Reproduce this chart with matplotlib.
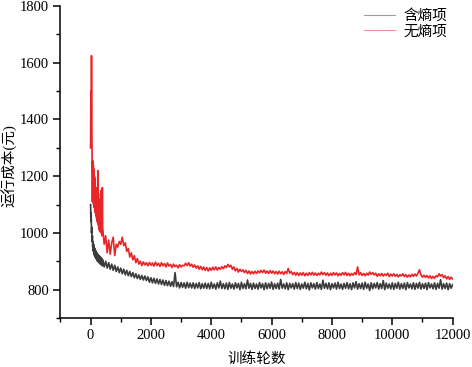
import numpy as np
import matplotlib
matplotlib.use("Agg")
import matplotlib.pyplot as plt
from matplotlib.ticker import MultipleLocator

plt.rcParams['font.family'] = ['Liberation Serif', 'Noto Sans CJK SC']

# iterations: dense in early phase, then every 50
iters = np.concatenate([np.arange(0, 400, 10), np.arange(400, 12001, 50)])

red_early = [1300, 1500, 1390, 1625, 1400, 1250, 1110, 1255, 1120, 1240,
             1100, 1225, 1090, 1200, 1080, 1190, 1070, 1160, 1060, 1150,
             1050, 1140, 1040, 1120, 1220, 1030, 1140, 1020, 1110, 1010,
             1090, 1005, 1070, 1120, 1000, 1150, 1010, 1140, 990, 1160]
red_late = [1020, 960, 990, 930, 975, 925, 965, 985, 920, 960,
            950, 970, 960, 985, 955, 965, 935, 945, 915, 930,
            905, 920, 895, 910, 890, 900, 885, 898, 887, 895,
            884, 896, 886, 894, 883, 897, 885, 893, 882, 895,
            884, 892, 880, 894, 883, 889, 878, 890, 881, 886,
            877, 888, 880, 886, 884, 893, 885, 895, 883, 890,
            879, 887, 876, 884, 872, 882, 870, 880, 868, 878,
            866, 877, 868, 879, 870, 880, 869, 878, 872, 881,
            874, 884, 878, 889, 880, 886, 872, 880, 866, 875,
            862, 872, 864, 870, 860, 868, 857, 866, 855, 864,
            856, 865, 857, 866, 859, 868, 860, 869, 858, 866,
            857, 867, 858, 866, 856, 864, 855, 865, 856, 863,
            854, 864, 857, 875, 858, 864, 853, 861, 851, 860,
            850, 859, 851, 860, 849, 858, 850, 860, 852, 861,
            851, 859, 850, 858, 852, 862, 853, 860, 851, 859,
            849, 858, 850, 860, 852, 859, 849, 857, 851, 860,
            852, 861, 850, 858, 849, 857, 851, 860, 853, 880,
            852, 860, 850, 857, 849, 858, 851, 862, 854, 860,
            852, 858, 847, 856, 849, 857, 848, 855, 850, 858,
            846, 855, 848, 856, 847, 854, 845, 853, 848, 856,
            846, 853, 844, 852, 845, 854, 847, 855, 848, 858,
            870, 852, 844, 851, 843, 850, 841, 849, 839, 847,
            840, 849, 845, 856, 848, 853, 842, 849, 838, 846,
            836, 844, 838]

gray_early = [1100, 1040, 1070, 1000, 1020, 970, 990, 950, 970, 935,
              960, 925, 950, 920, 945, 915, 940, 912, 935, 908,
              930, 905, 928, 900, 925, 898, 922, 896, 920, 894,
              918, 892, 915, 890, 913, 888, 910, 886, 908, 884]
gray_late = [905, 880, 900, 876, 895, 872, 890, 868, 886, 864,
             880, 860, 876, 856, 872, 852, 868, 849, 864, 846,
             860, 842, 856, 839, 852, 836, 850, 834, 848, 832,
             845, 826, 842, 824, 840, 822, 838, 820, 836, 818,
             834, 815, 832, 814, 830, 812, 828, 811, 860, 810,
             826, 806, 825, 808, 824, 805, 826, 807, 823, 806,
             824, 804, 822, 806, 825, 803, 821, 805, 823, 804,
             822, 803, 826, 805, 820, 802, 824, 806, 830, 804,
             821, 803, 823, 801, 825, 805, 820, 802, 824, 806,
             822, 800, 826, 804, 821, 803, 834, 805, 822, 801,
             823, 804, 820, 802, 825, 806, 821, 800, 824, 803,
             822, 805, 827, 801, 821, 804, 823, 802, 836, 805,
             820, 803, 824, 800, 822, 806, 821, 802, 825, 804,
             823, 801, 820, 805, 826, 803, 822, 799, 824, 806,
             821, 802, 825, 804, 820, 801, 833, 805, 822, 803,
             824, 800, 821, 806, 823, 802, 826, 804, 820, 801,
             822, 805, 825, 803, 821, 800, 824, 806, 828, 802,
             821, 804, 823, 801, 826, 805, 820, 797, 824, 803,
             822, 806, 825, 802, 821, 804, 832, 800, 823, 805,
             820, 803, 824, 801, 822, 805, 826, 802, 821, 804,
             823, 800, 825, 806, 820, 803, 824, 801, 822, 805,
             826, 802, 821, 804, 823, 800, 825, 806, 820, 803,
             824, 801, 822, 805, 835, 802, 821, 804, 823, 800,
             821, 805, 818]

red_vals = np.array(red_early + red_late)
gray_vals = np.array(gray_early + gray_late)

labels = ['含熵项', '无熵项']

fig = plt.figure(figsize=(4.72, 3.67), dpi=100)
ax = fig.add_axes([0.128, 0.1335, 0.831, 0.850])

ax.plot(iters, gray_vals, color='#3c3c3c', lw=1.2, label=labels[0])
ax.plot(iters, red_vals, color='#e8262a', lw=1.2, label=labels[1])

ax.set_xlim(-1000, 12000)
ax.set_ylim(700, 1800)
ax.xaxis.set_minor_locator(MultipleLocator(1000))
ax.yaxis.set_minor_locator(MultipleLocator(100))
ax.set_xticks([0, 2000, 4000, 6000, 8000, 10000, 12000])
ax.set_yticks([800, 1000, 1200, 1400, 1600, 1800])

for s in ['top', 'right']:
    ax.spines[s].set_visible(False)
for s in ['left', 'bottom']:
    ax.spines[s].set_linewidth(1.1)

ax.tick_params(which='major', direction='out', length=5, width=1.1,
               labelsize=10.5, pad=3)
ax.tick_params(which='minor', direction='out', length=3, width=1.0)

ax.set_xlabel('训练轮数', fontsize=10.5)
ax.set_ylabel('运行成本(元)', fontsize=10.5)
ax.xaxis.set_label_coords(0.5, -0.108)
ax.yaxis.set_label_coords(-0.11, 0.49)

leg = ax.legend(loc='upper right', frameon=False, fontsize=10.5,
                handlelength=2.1, handletextpad=0.55, labelspacing=0.15,
                borderaxespad=0.0, bbox_to_anchor=(1.0, 1.01))
for line in leg.get_lines():
    line.set_linewidth(0.8)
    line.set_alpha(0.5)

fig.savefig('out.png', dpi=100)
